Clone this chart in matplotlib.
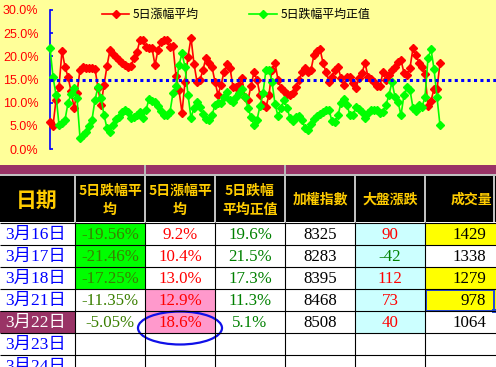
import matplotlib
matplotlib.use('Agg')
import matplotlib.pyplot as plt
from matplotlib.patches import Rectangle, Ellipse
from matplotlib.font_manager import FontProperties

# ---------------- data ----------------
rise_series = [5.8, 5.0, 10.6, 13.4, 21.2, 17.7, 15.6, 12.5, 8.9, 12.1,
               17.1, 17.7, 17.5, 17.5, 17.5, 17.3, 13.2, 9.5, 13.8, 17.9,
               21.4, 20.5, 19.9, 19.2, 18.6, 18.1, 17.7, 17.9, 19.7, 21.0,
               23.5, 23.5, 22.0, 21.8, 21.8, 18.1, 21.4, 23.1, 23.5, 23.5,
               22.0, 22.2, 15.8, 12.7, 7.8, 14.5, 19.9, 24.0, 18.4, 14.5,
               14.9, 17.1, 19.7, 18.6, 17.7, 14.5, 11.7, 13.8, 16.6, 18.4,
               17.5, 13.4, 13.4, 13.8, 15.3, 11.2, 10.6, 13.6, 16.6, 14.9,
               11.7, 9.5, 9.1, 11.7, 17.1, 18.6, 14.9, 13.2, 12.5, 11.9,
               11.7, 12.1, 13.4, 14.9, 16.6, 17.5, 16.6, 17.1, 20.3, 21.2,
               21.6, 18.6, 16.6, 14.5, 15.6, 17.1, 17.7, 15.3, 13.8, 15.6,
               15.6, 14.3, 13.2, 15.3, 16.4, 18.6, 15.6, 15.1, 14.5, 13.6,
               13.6, 16.6, 14.9, 16.0, 17.1, 17.7, 18.8, 19.2, 16.4, 16.0,
               17.5, 21.8, 20.3, 18.6, 17.7, 16.2, 9.2, 10.4, 13.0, 12.9, 18.6]
fall_pos_series = [21.8, 15.6, 11.7, 5.2, 5.6, 6.3, 9.9, 11.9, 13.2, 11.0,
                   2.4, 3.0, 3.7, 5.0, 6.3, 10.6, 13.4, 11.0, 7.3, 4.5,
                   3.7, 5.2, 6.5, 6.9, 8.0, 8.4, 8.0, 6.7, 6.9, 7.3,
                   8.0, 6.7, 8.4, 10.8, 10.4, 10.2, 9.3, 8.2, 7.3, 7.3,
                   8.0, 12.1, 13.6, 18.1, 20.7, 17.7, 11.7, 6.7, 8.9, 10.2,
                   9.1, 7.6, 6.5, 6.3, 7.3, 9.5, 9.9, 9.9, 11.2, 12.3,
                   10.6, 10.2, 11.2, 12.1, 13.0, 11.2, 8.9, 6.9, 5.2, 6.3,
                   9.3, 12.1, 17.1, 17.1, 14.5, 9.7, 7.1, 8.9, 10.6, 8.9,
                   6.7, 6.0, 6.9, 7.1, 6.3, 4.5, 4.1, 5.4, 6.5, 7.1,
                   7.6, 8.0, 8.4, 8.4, 6.0, 5.8, 7.3, 9.9, 10.8, 9.5,
                   7.3, 7.3, 9.1, 8.6, 8.0, 6.7, 7.8, 8.4, 8.4, 8.4,
                   7.8, 8.0, 9.5, 11.7, 14.5, 11.2, 10.2, 7.3, 11.7, 13.4,
                   12.7, 8.9, 8.2, 9.5, 9.1, 11.2, 19.6, 21.5, 17.3, 11.3, 5.1]
threshold = 15.0
y_ticks = [0, 5, 10, 15, 20, 25, 30]
legend_labels = ['5日漲幅平均', '5日跌幅平均正值']

headers = [['日期'], ['5日跌幅平', '均'], ['5日漲幅平', '均'], ['5日跌幅', '平均正值'],
           ['加權指數'], ['大盤漲跌'], ['成交量']]
dates = ['3月16日', '3月17日', '3月18日', '3月21日', '3月22日', '3月23日', '3月24日']
fall_avg = ['-19.56%', '-21.46%', '-17.25%', '-11.35%', '-5.05%']
rise_avg = ['9.2%', '10.4%', '13.0%', '12.9%', '18.6%']
fall_pos = ['19.6%', '21.5%', '17.3%', '11.3%', '5.1%']
index_vals = ['8325', '8283', '8395', '8468', '8508']
change = ['90', '-42', '112', '73', '40']
volume = ['1429', '1338', '1279', '978', '1064']

# ---------------- figure ----------------
W, H = 496, 367
fig = plt.figure(figsize=(W / 100, H / 100), dpi=100)
bg = fig.add_axes([0, 0, 1, 1])
bg.set_xlim(0, W)
bg.set_ylim(H, 0)
bg.axis('off')
bg.set_zorder(0)


def rect(x0, y0, x1, y1, color, **kw):
    bg.add_patch(Rectangle((x0, y0), x1 - x0, y1 - y0, facecolor=color,
                           edgecolor='none', **kw))


cols = [0, 75, 145, 215, 285, 355, 425, 496]
rows = [223, 245, 267, 289, 311, 333, 355, 377]

rect(0, 0, W, 165, '#FFFF99')
rect(0, 165, W, 174, '#993366')
rect(0, 174, W, 176, '#C0C0C0')
rect(0, 176, W, 222, 'black')
rect(0, 222, W, H, 'white')
for x in [145, 285]:
    rect(x - 1, 165, x + 1, 174, '#B8B8B8')
for x in cols[1:-1] + [494]:
    rect(x - 1, 176, x + 1, 222, '#C0C0C0')

# cell fills
for r in range(3):
    rect(cols[1], rows[r], cols[2], rows[r + 1], '#00FF00')
for r in [3, 4]:
    rect(cols[2], rows[r], cols[3], rows[r + 1], '#FF99CC')
for r in range(5):
    rect(cols[5], rows[r], cols[6], rows[r + 1], '#CCFFFF')
for r in [0, 2, 3]:
    rect(cols[6], rows[r], cols[7], rows[r + 1], '#FFFF00')
rect(cols[0], rows[4], cols[1], rows[5], '#993366')

# grid lines
for y in rows:
    bg.plot([0, W], [y, y], color='black', lw=0.8, solid_capstyle='butt')
for x in cols[1:-1]:
    bg.plot([x, x], [222, H], color='black', lw=0.8, solid_capstyle='butt')

# selection box
bg.add_patch(Rectangle((426, rows[3] + 0.5), 68, rows[4] - rows[3] - 1,
                       facecolor='none', edgecolor='#2448D8', lw=1.4))
rect(492, rows[4] - 2, 496, rows[4] + 2, '#2448D8')

# ellipse
bg.add_patch(Ellipse((180, 328), 84, 33, facecolor='none', edgecolor='#1010E8', lw=1.6))

# header texts
hdr_font = dict(family=['Noto Sans CJK TC', 'DejaVu Sans'], fontweight='bold',
                color='#FFCC00', va='center')
bg.text(37, 200, headers[0][0], fontsize=15, ha='center', **hdr_font)
for ci in range(1, 7):
    lines = headers[ci]
    if ci == 6:
        bg.text(492, 200, lines[0], fontsize=10, ha='right', **hdr_font)
    elif len(lines) == 2:
        cx = (cols[ci] + cols[ci + 1]) / 2
        bg.text(cx, 191, lines[0], fontsize=10, ha='center', **hdr_font)
        bg.text(cx, 210, lines[1], fontsize=10, ha='center', **hdr_font)
    else:
        cx = (cols[ci] + cols[ci + 1]) / 2
        bg.text(cx, 200, lines[0], fontsize=10, ha='center', **hdr_font)

serif = ['Liberation Serif', 'Noto Sans CJK TC']
fs = 12.2
for r, d in enumerate(dates):
    cy = (rows[r] + rows[r + 1]) / 2 + 1
    bg.text(36, cy, d, fontsize=12.5, family=serif, ha='center', va='center',
            color='white' if r == 4 else '#0000FF')


def cell(ci, r, s, color, ha='center'):
    cy = (rows[r] + rows[r + 1]) / 2 + 1
    if ha == 'center':
        x = (cols[ci] + cols[ci + 1]) / 2
    else:
        x = cols[ci + 1] - 10
    bg.text(x, cy, s, fontsize=fs, family=serif, ha=ha, va='center', color=color)


for r in range(5):
    cell(1, r, fall_avg[r], '#3A7F00')
    cell(2, r, rise_avg[r], '#FF0000')
    cell(3, r, fall_pos[r], '#008000')
    cell(4, r, index_vals[r], 'black')
    cell(5, r, change[r], '#008000' if change[r].startswith('-') else '#FF0000')
    cell(6, r, volume[r], 'black', ha='right')

# ---------------- chart ----------------
x0_px, x1_px = 50, 496
top_px, bot_px = 10, 149
ax = fig.add_axes([x0_px / W, (H - bot_px) / H, (x1_px - x0_px) / W, (bot_px - top_px) / H])
ax.set_zorder(2)
ax.patch.set_alpha(0)
n = len(rise_series)
xs = list(range(n))
ax.set_xlim(0, (n - 1) * (x1_px - x0_px) / (440 - 50))
ax.set_ylim(0, 30)

l1, = ax.plot(xs, rise_series, color='#FF0000', lw=1.2, marker='D', ms=4.0,
              mec='#FF0000', mfc='#FF0000', clip_on=False, label=legend_labels[0], zorder=3)
l2, = ax.plot(xs, fall_pos_series, color='#00FF00', lw=1.2, marker='D', ms=4.0,
              mec='#00FF00', mfc='#00FF00', clip_on=False, label=legend_labels[1], zorder=4)
ax.axhline(threshold, color='#0000FF', lw=2.2, linestyle=(0, (1, 1.1)),
           dash_capstyle='butt', zorder=5)

for s in ['top', 'right', 'bottom']:
    ax.spines[s].set_visible(False)
ax.spines['left'].set_color('#0000FF')
ax.spines['left'].set_linewidth(1.2)
ax.set_xticks([])
ax.set_yticks(y_ticks)
ax.set_yticklabels(['%.1f%%' % v for v in y_ticks])
ax.tick_params(axis='y', direction='in', length=2.5, width=1.2, color='#0000FF',
               labelcolor='#FF0000', labelsize=9, pad=8.3)
for lab in ax.get_yticklabels():
    lab.set_family('Liberation Sans')

ax.legend(handles=[l1, l2], loc='upper left', bbox_to_anchor=(102 / W, 1 - 8 / H),
          bbox_transform=fig.transFigure, ncol=2, frameon=False,
          prop=FontProperties(family='Noto Sans CJK TC', size=8.6),
          handlelength=2.3, handletextpad=0.3, columnspacing=4.2,
          borderpad=0, borderaxespad=0)

fig.savefig('out.png', dpi=100)
